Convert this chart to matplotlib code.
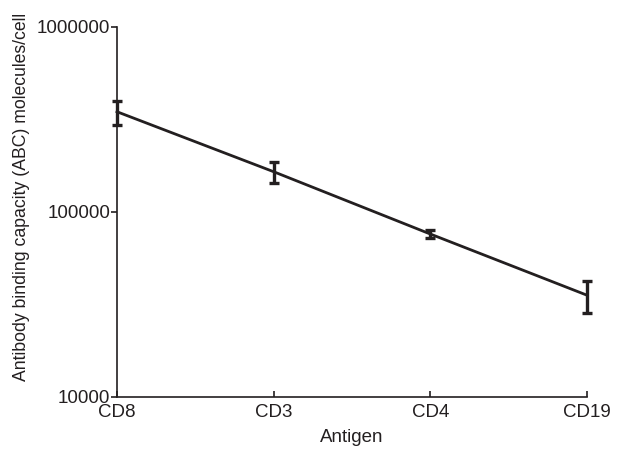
import numpy as np
import matplotlib.pyplot as plt

# data
antigens = ["CD8", "CD3", "CD4", "CD19"]
abc_mean = [348000, 165000, 76000, 35500]
abc_err = [52000, 22000, 4000, 7000]

plt.rcParams['font.family'] = ['Liberation Sans', 'DejaVu Sans']

fig = plt.figure(figsize=(6.19, 4.49), dpi=100)
ax = fig.add_axes([0.189, 0.116, 0.759, 0.824])

x = np.arange(len(antigens))
line = ax.errorbar(x, abc_mean, yerr=abc_err, color="#231f20", lw=2,
                   capsize=3.5, capthick=2.4, elinewidth=2.4)
for artist in line.lines[0:1] + tuple(line.lines[1]) + tuple(line.lines[2]):
    artist.set_clip_on(False)

ax.set_yscale("log")
ax.set_ylim(10000, 1000000)
ax.set_xlim(0, len(antigens) - 1)
ax.set_yticks([10000, 100000, 1000000])
ax.set_yticklabels(["10000", "100000", "1000000"])
ax.yaxis.set_minor_locator(plt.NullLocator())
ax.set_xticks(x)
ax.set_xticklabels(antigens)

for s in ["top", "right"]:
    ax.spines[s].set_visible(False)
for s in ["left", "bottom"]:
    ax.spines[s].set_color("#231f20")
    ax.spines[s].set_linewidth(1.2)

ax.tick_params(axis="y", direction="out", length=4, width=1.2, labelsize=13.5, pad=1, colors="#231f20")
ax.tick_params(axis="x", direction="in", length=4, width=1.2, labelsize=13.5, pad=5, colors="#231f20")

ax.set_xlabel("Antigen", fontsize=13.5, color="#231f20", labelpad=6)
ax.set_ylabel("Antibody binding capacity (ABC) molecules/cell", fontsize=12.7, color="#231f20")
ax.yaxis.set_label_coords(-0.185, 0.54)

fig.savefig("out.png", dpi=100)
